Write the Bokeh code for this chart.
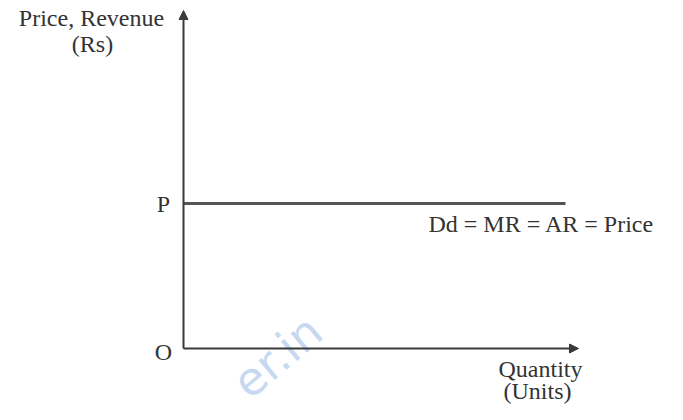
from bokeh.plotting import figure
from bokeh.models import Range1d, Arrow, NormalHead
from bokeh.core.properties import value
from bokeh.embed import file_html
from bokeh.resources import INLINE

# --- data (units: quantity to the right of O, price above O) ---
origin = [0, 0]
x_axis_end = 395          # quantity axis length
y_axis_end = 338          # price axis length
price_P = 145             # price level P
demand_q = [0, 382]       # horizontal demand line extent
demand_p = [price_P, price_P]
demand_label = "Dd = MR = AR = Price"
y_title = ["Price, Revenue", "(Rs)"]
x_title = ["Quantity", "(Units)"]
point_labels = ["P", "O"]

W, H = 667, 404
# place O at picture pixel (183, 348)
ox, oy = 183, 348
p = figure(width=W, height=H, output_backend="svg", toolbar_location=None,
           x_range=Range1d(-ox, W - ox), y_range=Range1d(oy - H, oy),
           min_border=0, outline_line_color=None)
p.xaxis.visible = False
p.yaxis.visible = False
p.grid.visible = False
p.background_fill_color = "white"

serif = value("Liberation Serif")
tc = "#333333"
fs = "24px"

# watermark
p.text(x=[94], y=[-8], text=["er.in"], angle=0.7, text_font=value("DejaVu Sans"),
       text_font_size="46px", text_color="#bcd3ef", text_alpha=0.85,
       text_align="center", text_baseline="middle")

# axes with arrows
p.add_layout(Arrow(x_start=origin[0], y_start=origin[1], x_end=origin[0], y_end=y_axis_end,
                   line_color="#3a3a3a", line_width=2,
                   end=NormalHead(size=9, fill_color="#3a3a3a", line_color="#3a3a3a")))
p.add_layout(Arrow(x_start=origin[0], y_start=origin[1], x_end=x_axis_end, y_end=origin[1],
                   line_color="#3a3a3a", line_width=2,
                   end=NormalHead(size=9, fill_color="#3a3a3a", line_color="#3a3a3a")))

# demand line
p.line(demand_q, demand_p, line_color="#555555", line_width=3)

# labels
p.text(x=[-20], y=[price_P], text=[point_labels[0]], text_font=serif, text_font_size=fs,
       text_color=tc, text_align="center", text_baseline="middle")
p.text(x=[-20], y=[-3], text=[point_labels[1]], text_font=serif, text_font_size=fs,
       text_color=tc, text_align="center", text_baseline="middle")
p.text(x=[245], y=[price_P - 20], text=[demand_label], text_font=serif, text_font_size=fs,
       text_color=tc, text_align="left", text_baseline="middle")
p.text(x=[-92, -91], y=[331, 305], text=y_title, text_font=serif, text_font_size=fs,
       text_color=tc, text_align="center", text_baseline="middle")
p.text(x=[357, 354], y=[-20, -42], text=x_title, text_font=serif, text_font_size=fs,
       text_color=tc, text_align="center", text_baseline="middle")

open("out.html", "w").write(file_html(p, INLINE))
